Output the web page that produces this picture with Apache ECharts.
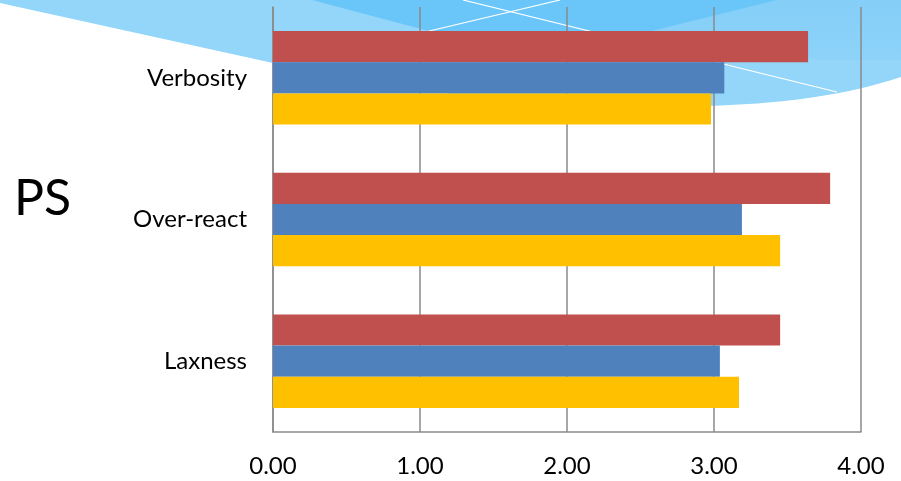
<!DOCTYPE html>
<html>
<head>
<meta charset="utf-8">
<script src="https://cdn.jsdelivr.net/npm/echarts@6/dist/echarts.min.js"></script>
<style>html,body{margin:0;padding:0;background:#fff}#c{width:901px;height:481px}</style>
</head>
<body>
<div id="c"></div>
<script>
const categories = ['Verbosity', 'Over-react', 'Laxness'];
const seriesRed = [3.64, 3.79, 3.45];
const seriesBlue = [3.07, 3.19, 3.04];
const seriesYellow = [2.98, 3.45, 3.17];
const tickLabels = ['0.00', '1.00', '2.00', '3.00', '4.00'];
const sideTitle = 'PS';

// decorative swoosh outline (background art, not data)
function quad(p0, c, p2, n) {
  const pts = [];
  for (let i = 1; i <= n; i++) {
    const t = i / n, u = 1 - t;
    pts.push([u*u*p0[0] + 2*u*t*c[0] + t*t*p2[0], u*u*p0[1] + 2*u*t*c[1] + t*t*p2[1]]);
  }
  return pts;
}
const swoosh = [[0,0],[0,3],[273,63],[480,99]]
  .concat(quad([480,99],[600,108],[700,106],10))
  .concat(quad([700,106],[820,104],[901,77],16))
  .concat([[901,0]]);

const chart = echarts.init(document.getElementById('c'));
const FONT = 'Lato';
chart.setOption({
  backgroundColor: '#ffffff',
  animation: false,
  graphic: [
    { type: 'polygon', z: -10, silent: true,
      shape: { points: swoosh },
      style: { fill: '#93d6f9' } },
    { type: 'polygon', z: -9, silent: true,
      shape: { points: [[777,0],[640,34],[820,60],[901,60],[901,0]] },
      style: { fill: new echarts.graphic.LinearGradient(0, 0, 0, 1, [
        { offset: 0, color: '#84cef8' }, { offset: 1, color: '#8dd3f9' }]) } },
    { type: 'polygon', z: -8, silent: true,
      shape: { points: [[312,0],[440,34],[640,34],[777,0]] },
      style: { fill: '#6ac6f8' } },
    { type: 'line', z: -7, silent: true,
      shape: { x1: 400, y1: 38, x2: 560, y2: 0 },
      style: { stroke: '#ffffff', lineWidth: 1.2 } },
    { type: 'line', z: -7, silent: true,
      shape: { x1: 463, y1: 0, x2: 837, y2: 92 },
      style: { stroke: '#ffffff', lineWidth: 1.2 } },
    { type: 'text', left: 14, top: 174, silent: true,
      style: { text: sideTitle, font: '50px ' + FONT, fill: '#000000' } }
  ],
  grid: { left: 273, right: 40, top: 7, bottom: 49, containLabel: false },
  xAxis: {
    type: 'value', min: 0, max: 4, interval: 1,
    axisLine: { show: true, lineStyle: { color: '#8a8a8a', width: 1.5 } },
    axisTick: { show: false },
    splitLine: { show: true, lineStyle: { color: '#8a8a8a', width: 1.5 } },
    axisLabel: { color: '#000', fontFamily: FONT, fontSize: 24, margin: 22,
      formatter: function (v) { return tickLabels[Math.round(v)]; } }
  },
  yAxis: {
    type: 'category', data: categories, inverse: true,
    axisLine: { show: true, lineStyle: { color: '#8a8a8a', width: 1.5 } },
    axisTick: { show: false },
    axisLabel: { color: '#000', fontFamily: FONT, fontSize: 24, margin: 26 }
  },
  series: [
    { type: 'bar', data: seriesRed, itemStyle: { color: '#c0504d' }, barGap: '0%', barCategoryGap: '34%' },
    { type: 'bar', data: seriesBlue, itemStyle: { color: '#4f81bd' }, barGap: '0%', barCategoryGap: '34%' },
    { type: 'bar', data: seriesYellow, itemStyle: { color: '#ffc000' }, barGap: '0%', barCategoryGap: '34%' }
  ]
});
</script>
</body>
</html>
